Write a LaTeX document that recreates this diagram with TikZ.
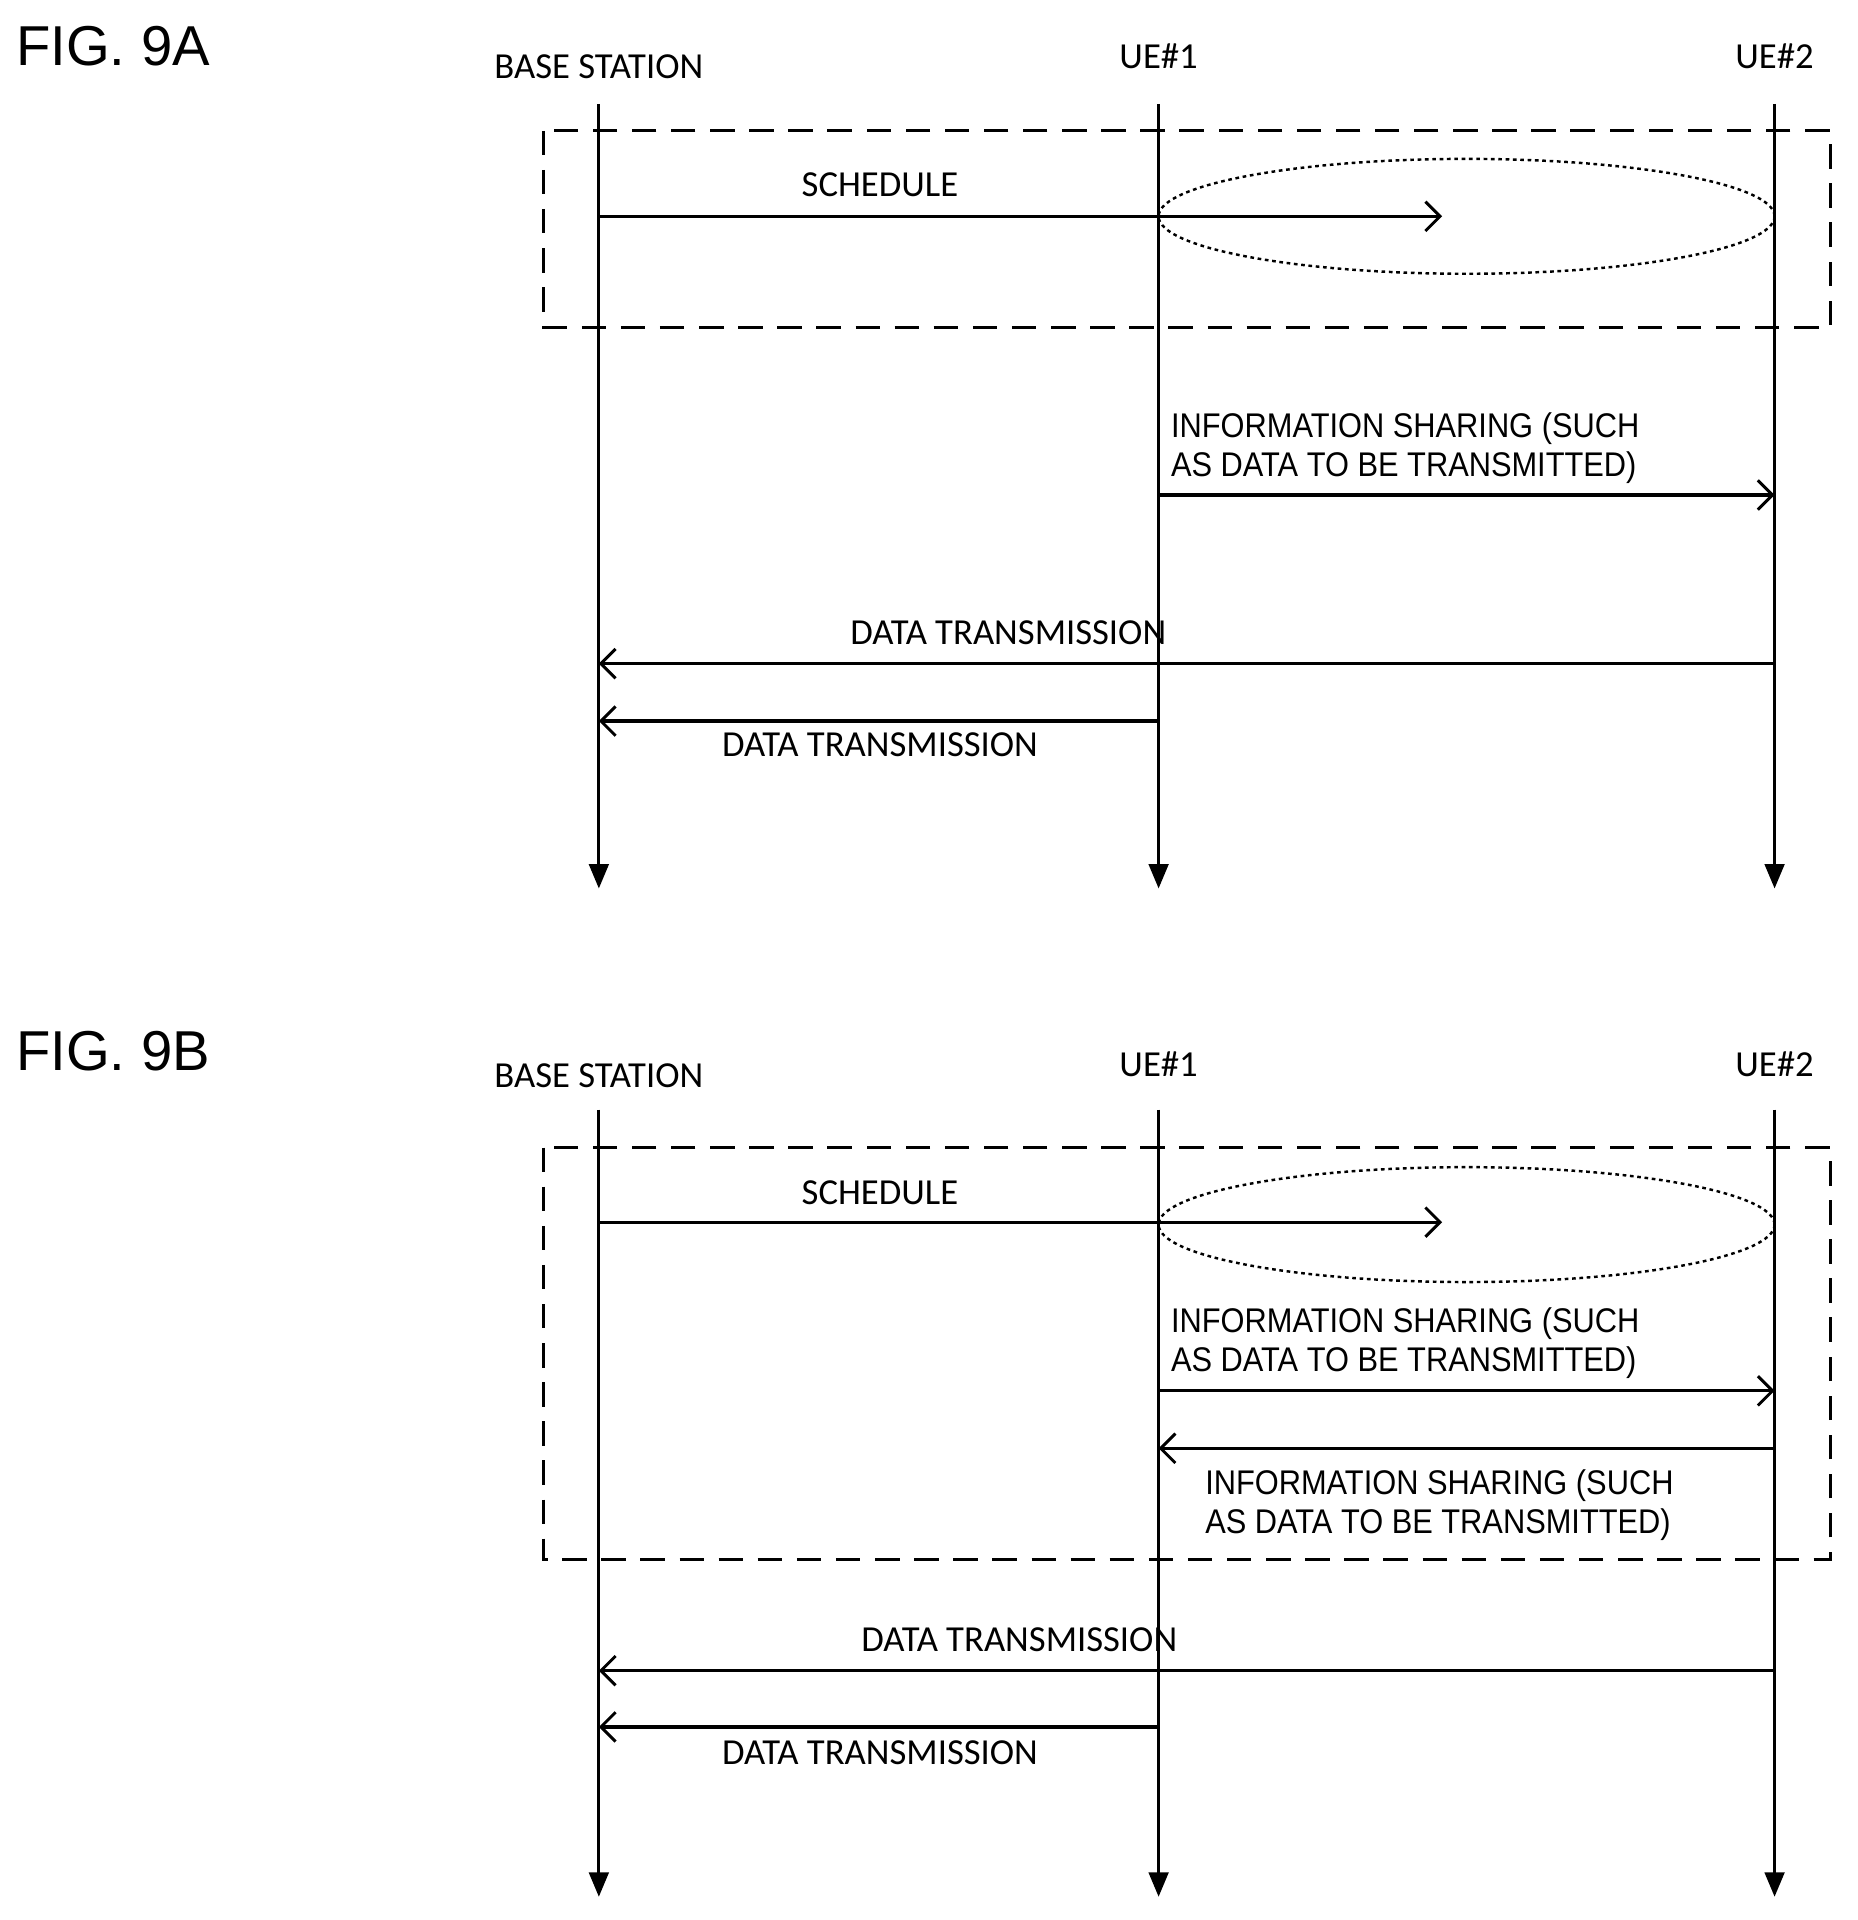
\documentclass[tikz,border=0pt]{standalone}
\usepackage{fontspec}
\setmainfont{Carlito}
\newfontfamily\arialf{Liberation Sans}
\usetikzlibrary{arrows.meta}
\begin{document}
\begin{tikzpicture}[x=1pt,y=-1pt,line width=2.6pt,
  life/.style={-{Triangle[length=20pt,width=16pt]}},
  msg/.style={-{Straight Barb[length=12pt,width=24pt,line width=2.4pt]}},
  lbl/.style={font=\fontsize{30}{32}\selectfont,inner sep=0pt},
  info/.style={font=\arialf\fontsize{28}{32}\selectfont,inner sep=0pt,align=left,anchor=north west,xscale=0.9},
  fig/.style={font=\arialf\fontsize{46}{50}\selectfont,inner sep=0pt,anchor=west},
  box/.style={dashed,dash pattern=on 20pt off 12pt},
  ell/.style={line width=2pt,dash pattern=on 3pt off 3pt}]
\useasboundingbox (0,0) rectangle (1520,1571);
% ---------- FIG 9A
\node[fig] (fa) at (12,38) {FIG. 9A};
\node[lbl] (bsA) at (490,55) {BASE STATION};
\node[lbl] (u1A) at (948,46) {UE\#1};
\node[lbl] (u2A) at (1452,46) {UE\#2};
\coordinate (bsAt) at (490,85); \coordinate (bsAb) at (490,727);
\coordinate (u1At) at (948,85); \coordinate (u1Ab) at (948,727);
\coordinate (u2At) at (1452,85); \coordinate (u2Ab) at (1452,727);
\draw[life] (bsAt) -- (bsAb);
\draw[life] (u1At) -- (u1Ab);
\draw[life] (u2At) -- (u2Ab);
\draw[box] (445,107) rectangle (1498,268);
\draw[ell] (1200,177) ellipse [x radius=252, y radius=47];
\coordinate (sA1) at (490,177); \coordinate (sA2) at (1180,177);
\draw[msg] (sA1) -- (sA2);
\node[lbl] (schA) at (720,151) {SCHEDULE};
\coordinate (iA1) at (948,405); \coordinate (iA2) at (1452,405);
\draw[msg] (iA1) -- (iA2);
\node[info] (infA) at (957,336) {INFORMATION SHARING (SUCH\\AS DATA TO BE TRANSMITTED)};
\coordinate (dA1) at (1452,543); \coordinate (dA2) at (490,543);
\draw[msg] (dA1) -- (dA2);
\node[lbl] (dtA1) at (825,518) {DATA TRANSMISSION};
\coordinate (dA3) at (948,590); \coordinate (dA4) at (490,590);
\draw[msg] (dA3) -- (dA4);
\node[lbl] (dtA2) at (720,609) {DATA TRANSMISSION};
% ---------- FIG 9B
\node[fig] (fb) at (12,860) {FIG. 9B};
\node[lbl] (bsB) at (490,880) {BASE STATION};
\node[lbl] (u1B) at (948,871) {UE\#1};
\node[lbl] (u2B) at (1452,871) {UE\#2};
\coordinate (bsBt) at (490,908); \coordinate (bsBb) at (490,1552);
\coordinate (u1Bt) at (948,908); \coordinate (u1Bb) at (948,1552);
\coordinate (u2Bt) at (1452,908); \coordinate (u2Bb) at (1452,1552);
\draw[life] (bsBt) -- (bsBb);
\draw[life] (u1Bt) -- (u1Bb);
\draw[life] (u2Bt) -- (u2Bb);
\draw[box] (445,939) rectangle (1498,1276);
\draw[ell] (1200,1002) ellipse [x radius=252, y radius=47];
\coordinate (sB1) at (490,1000); \coordinate (sB2) at (1180,1000);
\draw[msg] (sB1) -- (sB2);
\node[lbl] (schB) at (720,976) {SCHEDULE};
\coordinate (iB1) at (948,1138); \coordinate (iB2) at (1452,1138);
\draw[msg] (iB1) -- (iB2);
\node[info] (infB1) at (957,1069) {INFORMATION SHARING (SUCH\\AS DATA TO BE TRANSMITTED)};
\coordinate (iB3) at (1452,1185); \coordinate (iB4) at (948,1185);
\draw[msg] (iB3) -- (iB4);
\node[info] (infB2) at (985,1201) {INFORMATION SHARING (SUCH\\AS DATA TO BE TRANSMITTED)};
\coordinate (dB1) at (1452,1367); \coordinate (dB2) at (490,1367);
\draw[msg] (dB1) -- (dB2);
\node[lbl] (dtB1) at (834,1342) {DATA TRANSMISSION};
\coordinate (dB3) at (948,1413); \coordinate (dB4) at (490,1413);
\draw[msg] (dB3) -- (dB4);
\node[lbl] (dtB2) at (720,1434) {DATA TRANSMISSION};
\end{tikzpicture}
\end{document}
